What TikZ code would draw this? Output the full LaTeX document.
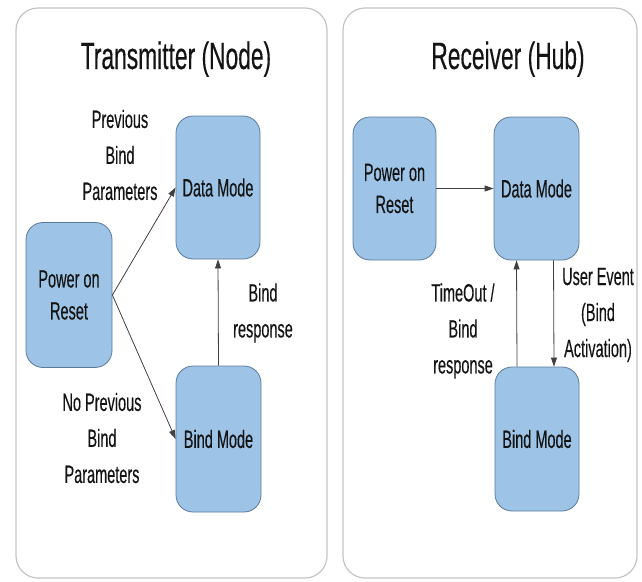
\documentclass[tikz,border=0pt]{standalone}
\usepackage{fontspec}
\setmainfont{Liberation Sans}
\newfontfamily\narrowfont[FakeStretch=0.58,FakeBold=0.3]{Liberation Sans}
\newfontfamily\titlefont[FakeStretch=0.6,FakeBold=0.3]{Liberation Sans}
\usetikzlibrary{arrows.meta}
\definecolor{boxfill}{HTML}{9DC3E6}
\definecolor{boxedge}{HTML}{5A7A9A}
\definecolor{panel}{HTML}{C4C4C4}
\definecolor{txt}{HTML}{141414}
\begin{document}
\begin{tikzpicture}[x=1pt,y=-1pt,
  panelbox/.style={draw=panel, line width=1.2pt, rounded corners=22pt},
  statebox/.style={draw=boxedge, fill=boxfill, line width=0.8pt, rounded corners=17pt,
    inner sep=0pt, align=center, text=txt,
    font=\narrowfont\fontsize{25}{32}\selectfont},
  lbl/.style={align=center, text=txt, inner sep=0pt,
    font=\narrowfont\fontsize{25}{36}\selectfont},
  ttl/.style={anchor=base, text=txt, inner sep=0pt,
    font=\titlefont\fontsize{38}{40}\selectfont},
  conn/.style={draw=black!75, line width=0.8pt, -{Triangle[length=9pt,width=6pt]}}]
\useasboundingbox (0,0) rectangle (642,581);
% panels
\draw[panelbox] (16,8) rectangle (327,578);
\draw[panelbox] (343,8) rectangle (637,578);
% titles
\node[ttl] (t1) at (176,69) {Transmitter (Node)};
\node[ttl] (t2) at (508,69) {Receiver (Hub)};
% left states
\node[statebox, minimum width=86pt, minimum height=145pt] (lpor) at (69,295) {Power on\\Reset};
\node[statebox, minimum width=84pt, minimum height=143pt] (ldata) at (218,187.5) {Data Mode};
\node[statebox, minimum width=85pt, minimum height=146pt] (lbind) at (218.5,439) {Bind Mode};
% right states
\node[statebox, minimum width=83pt, minimum height=143pt] (rpor) at (394.5,188.5) {Power on\\Reset};
\node[statebox, minimum width=85pt, minimum height=143pt] (rdata) at (536.5,188.5) {Data Mode};
\node[statebox, minimum width=84pt, minimum height=144pt] (rbind) at (537,439) {Bind Mode};
% left connectors
\draw[conn] (lpor.east) -- (ldata.west);
\draw[conn] (lpor.east) -- (lbind.west);
\draw[conn] (lbind.north) -- (ldata.south);
% right connectors
\draw[conn] (rpor.east) -- (rdata.west);
\draw[conn] ([xshift=-20pt]rbind.north) -- ([xshift=-20pt]rdata.south);
\draw[conn] ([xshift=17pt]rdata.south) -- ([xshift=17pt]rbind.north);
% labels
\node[lbl] (l1) at (120,155) {Previous\\Bind\\Parameters};
\node[lbl] (l2) at (263,313) {Bind\\response};
\node[lbl] (l3) at (102,438) {No Previous\\Bind\\Parameters};
\node[lbl] (l4) at (463,331) {TimeOut /\\Bind\\response};
\node[lbl] (l5) at (598,315) {User Event\\(Bind\\Activation)};
\end{tikzpicture}
\end{document}
